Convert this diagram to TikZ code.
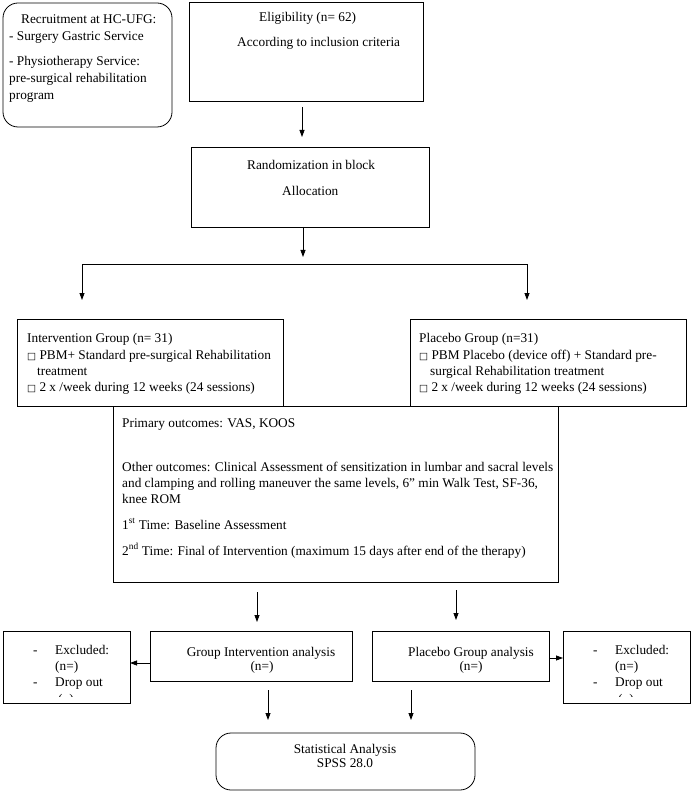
\documentclass[tikz,border=0pt]{standalone}
\usepackage{fontspec}
\setmainfont{Liberation Serif}
\newfontfamily\symf{DejaVu Sans}
\usetikzlibrary{arrows.meta}
\newcommand\sqbox{{\symf\fontsize{9.5}{8}\selectfont □}}
\tikzset{
  bx/.style={draw=black, line width=0.8pt, inner sep=0pt, outer sep=0pt},
  rbx/.style={bx, rounded corners=15pt},
  tx/.style={anchor=base west, inner sep=0pt},
  txc/.style={anchor=base, inner sep=0pt},
  arr/.style={-{Triangle[length=7pt,width=5pt]}, line width=0.8pt, black},
  ln/.style={line width=0.8pt, black}
}
\begin{document}
\begin{tikzpicture}[x=1pt, y=-1pt, font=\fontsize{13.3}{16}\selectfont]
\useasboundingbox[fill=white] (0,0) rectangle (692,791);
% boxes
\node[rbx, minimum width=169pt, minimum height=124pt] (rec) at (87.5,65) {};
\node[bx, minimum width=234pt, minimum height=99pt] (elig) at (306,51.5) {};
\node[bx, minimum width=238pt, minimum height=80pt] (rand) at (310,187) {};
\node[bx, minimum width=266pt, minimum height=87pt] (intv) at (150,362.5) {};
\node[bx, minimum width=276pt, minimum height=87pt] (plac) at (548,362.5) {};
\node[bx, minimum width=445pt, minimum height=176pt] (outc) at (335.5,494) {};
\node[bx, minimum width=202pt, minimum height=50pt] (gia) at (251,656) {};
\node[bx, minimum width=177pt, minimum height=50pt] (pga) at (460.5,656) {};
\node[bx, minimum width=127pt, minimum height=72pt] (exl) at (66.5,667) {};
\node[bx, minimum width=127pt, minimum height=72pt] (exr) at (626.5,667) {};
\node[rbx, minimum width=259pt, minimum height=57pt] (stat) at (345.5,761.5) {};
% recruitment text
\node[tx] (r1) at (21,24) {Recruitment at HC-UFG:};
\node[tx] (r2) at (9,41) {- Surgery Gastric Service};
\node[tx] (r3) at (9,66) {- Physiotherapy Service:};
\node[tx] (r4) at (9,83) {pre-surgical rehabilitation};
\node[tx] (r5) at (9,100) {program};
% eligibility
\node[tx] (e1) at (259,22) {Eligibility (n= 62)};
\node[tx] (e2) at (237,47) {According to inclusion criteria};
% randomization
\node[tx] (a1) at (247,170) {Randomization in block};
\node[tx] (a2) at (282,196) {Allocation};
% intervention group
\node[tx] (i1) at (27,342) {Intervention Group (n= 31)};
\node[tx] (i2) at (27,359) {\sqbox\ PBM+ Standard pre-surgical Rehabilitation};
\node[tx] (i3) at (37,375) {treatment};
\node[tx] (i4) at (27,391) {\sqbox\ 2 x /week during 12 weeks (24 sessions)};
% placebo group
\node[tx] (p1) at (419,342) {Placebo Group (n=31)};
\node[tx] (p2) at (419,359) {\sqbox\ PBM Placebo (device off) + Standard pre-};
\node[tx] (p3) at (430,375) {surgical Rehabilitation treatment};
\node[tx] (p4) at (419,391) {\sqbox\ 2 x /week during 12 weeks (24 sessions)};
% outcomes
\node[tx] (o1) at (122,427) {Primary outcomes: VAS, KOOS};
\node[tx] (o2) at (122,471) {Other outcomes: Clinical Assessment of sensitization in lumbar and sacral levels};
\node[tx] (o3) at (122,487) {and clamping and rolling maneuver the same levels, 6” min Walk Test, SF-36,};
\node[tx] (o4) at (122,503) {knee ROM};
\node[tx] (o5) at (122,529) {1\textsuperscript{st} Time: Baseline Assessment};
\node[tx] (o6) at (122,555) {2\textsuperscript{nd} Time: Final of Intervention (maximum 15 days after end of the therapy)};
% analysis boxes
\node[txc] (g1) at (261,656) {Group Intervention analysis};
\node[txc] (g2) at (262,670) {(n=)};
\node[txc] (q1) at (471,656) {Placebo Group analysis};
\node[txc] (q2) at (471,670) {(n=)};
% excluded left
\node[tx] (xl1) at (33,654) {-};
\node[tx] (xl2) at (55,654) {Excluded:};
\node[tx] (xl3) at (55,670) {(n=)};
\node[tx] (xl4) at (33,686) {-};
\node[tx] (xl5) at (55,686) {Drop out};
\begin{scope}
\clip (40,680) rectangle (100,696);
\node[tx] (xl6) at (58,703) {(\ \ )};
\end{scope}
% excluded right
\node[tx] (xr1) at (593,654) {-};
\node[tx] (xr2) at (615,654) {Excluded:};
\node[tx] (xr3) at (615,670) {(n=)};
\node[tx] (xr4) at (593,686) {-};
\node[tx] (xr5) at (615,686) {Drop out};
\begin{scope}
\clip (600,680) rectangle (660,696);
\node[tx] (xr6) at (618,703) {(\ \ )};
\end{scope}
% stats
\node[txc] (s1) at (345,753) {Statistical Analysis};
\node[txc] (s2) at (345,767) {SPSS 28.0};
% connectors
\draw[arr] ([xshift=-4pt,yshift=-6pt]elig.south) -- ([xshift=-8pt,yshift=10pt]rand.north);
\draw[arr] ([xshift=-7pt]rand.south) -- ++(0,30);
\coordinate (sl) at (82,264);
\coordinate (sr) at (527,264);
\draw[ln] (sl) -- (sr);
\draw[arr] (sl) -- ++(0,36);
\draw[arr] (sr) -- ++(0,36);
\draw[arr] ([xshift=6pt,yshift=39pt]gia.north) -- ([xshift=6pt,yshift=9pt]gia.north);
\draw[arr] ([xshift=-4.5pt,yshift=41pt]pga.north) -- ([xshift=-4.5pt,yshift=11pt]pga.north);
\draw[arr] ([yshift=-7pt]gia.west) coordinate (gw) -- (gw -| exl.east);
\draw[arr] ([yshift=-2pt]pga.east) coordinate (pe) -- (pe -| exr.west);
\draw[arr] ([xshift=17pt,yshift=-9pt]gia.south) -- ([xshift=-77.5pt,yshift=13pt]stat.north);
\draw[arr] ([xshift=-49.5pt,yshift=-9pt]pga.south) -- ([xshift=65.5pt,yshift=13pt]stat.north);
\end{tikzpicture}
\end{document}
